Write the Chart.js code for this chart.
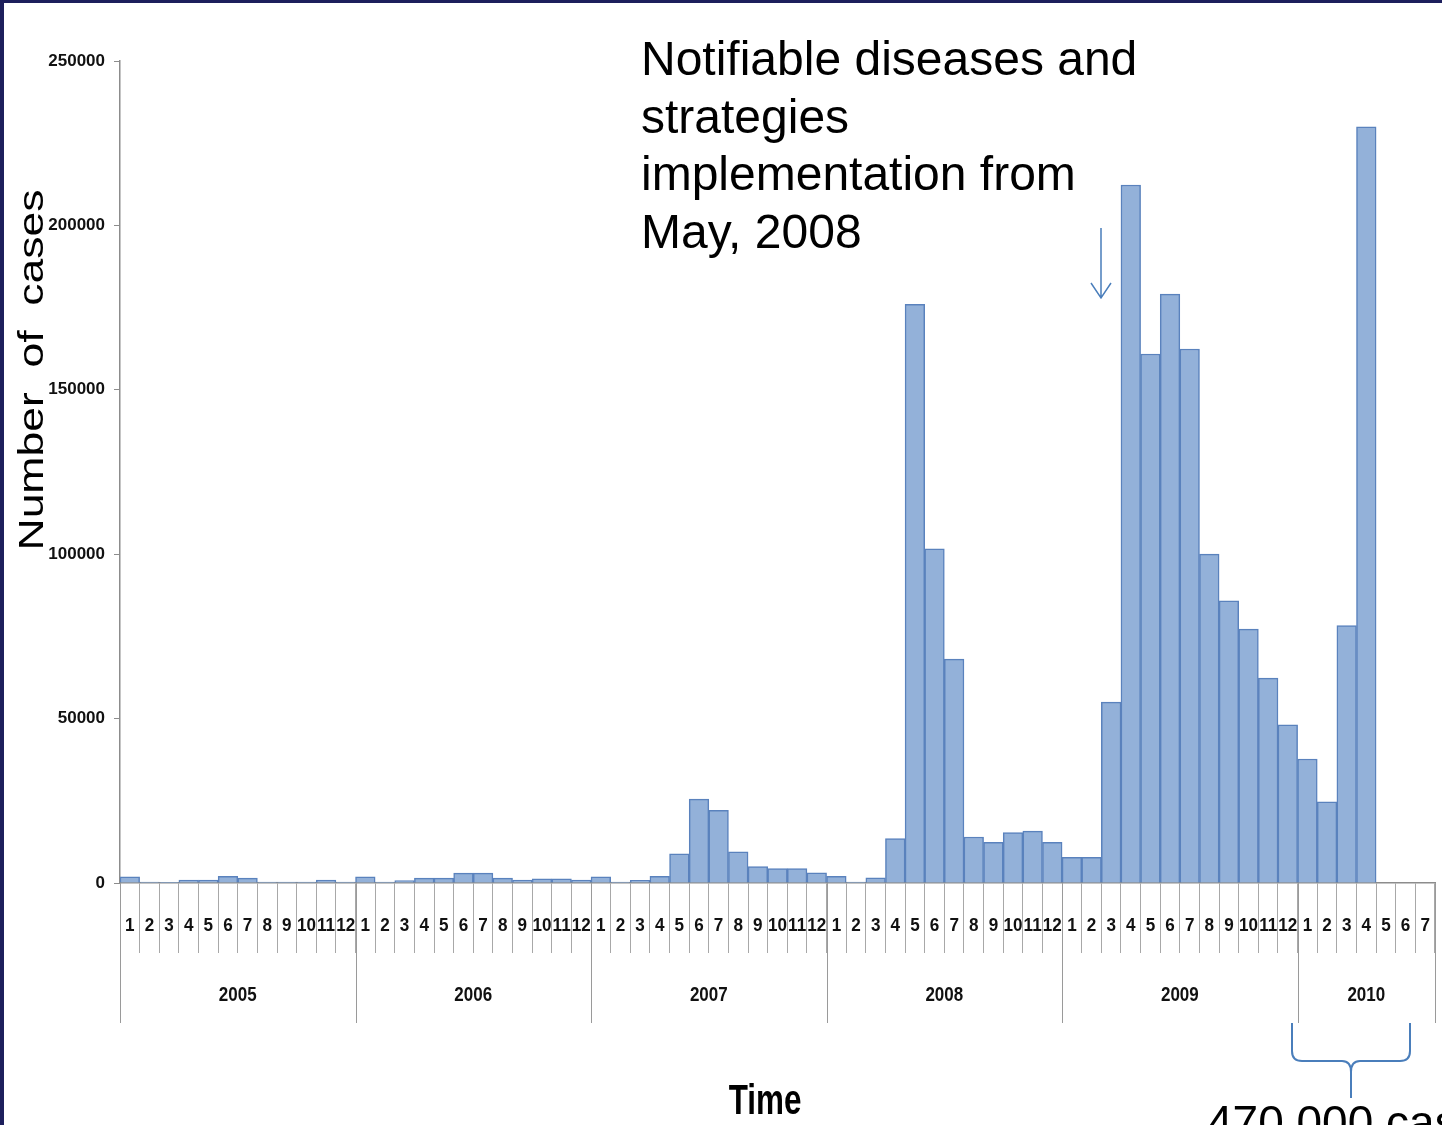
<!DOCTYPE html>
<html>
<head>
<meta charset="utf-8">
<title>Number of cases by month, 2005-2010</title>
<script src="https://cdn.jsdelivr.net/npm/chart.js@4.4.1/dist/chart.umd.min.js"></script>
<style>
  html, body { margin: 0; padding: 0; background: #ffffff; }
  #chart { display: block; }
</style>
</head>
<body>
<canvas id="chart" width="1442" height="1125"></canvas>
<script>
// years shown on the lower axis row and how many months each one has
const years = ["2005", "2006", "2007", "2008", "2009", "2010"];
const monthsPerYear = [12, 12, 12, 12, 12, 7];

// monthly case counts (null = no bar)
const cases2005 = [1900, 300, 200, 900, 900, 2000, 1500, 300, 300, 300, 900, 300];
const cases2006 = [1900, 300, 700, 1500, 1500, 3000, 3000, 1500, 900, 1300, 1300, 900];
const cases2007 = [1900, 300, 800, 2000, 8900, 25500, 22100, 9500, 5000, 4400, 4400, 3100];
const cases2008 = [2000, 300, 1600, 13500, 176000, 101600, 68100, 14000, 12400, 15300, 15800, 12400];
const cases2009 = [7800, 7800, 55000, 212300, 160900, 179100, 162400, 100000, 85800, 77200, 62300, 48100];
const cases2010 = [37700, 24700, 78300, 230000, null, null, null];

const yTicks = [0, 50000, 100000, 150000, 200000, 250000];

const annotationLines = [
  "Notifiable diseases and",
  "strategies",
  "implementation from",
  "May, 2008",
];
const bracketNote = "470 000 cases";

const FONT = '"Liberation Sans", Arial, sans-serif';
const ACCENT = "#4a7ebb";

const monthLabels = [];
years.forEach((year, yi) => {
  for (let m = 1; m <= monthsPerYear[yi]; m++) {
    monthLabels.push(String(m));
  }
});
const values = [].concat(cases2005, cases2006, cases2007, cases2008, cases2009, cases2010);

const drawNarrow = (ctx, text, x, y, scaleX, align) => {
  ctx.save();
  ctx.translate(x, y);
  ctx.scale(scaleX, 1);
  ctx.textAlign = align || "center";
  ctx.fillText(text, 0, 0);
  ctx.restore();
};

const decorations = {
  id: "decorations",
  afterDraw(chart) {
    const ctx = chart.ctx;
    const xs = chart.scales.x;
    const area = chart.chartArea;
    const step = xs.getPixelForValue(1) - xs.getPixelForValue(0);
    const edge = (i) => xs.getPixelForValue(i) - step / 2;

    ctx.save();

    // month numbers
    ctx.fillStyle = "#111111";
    ctx.font = "bold 18px " + FONT;
    ctx.textBaseline = "alphabetic";
    monthLabels.forEach((label, i) => {
      drawNarrow(ctx, label, xs.getPixelForValue(i), 931, 0.95);
    });

    // year dividers and year labels
    ctx.strokeStyle = "#9a9a9a";
    ctx.lineWidth = 1;
    let start = 0;
    ctx.font = "bold 20px " + FONT;
    years.forEach((year, yi) => {
      const end = start + monthsPerYear[yi];
      const x0 = Math.round(edge(start)) + 0.5;
      ctx.beginPath();
      ctx.moveTo(x0, area.bottom);
      ctx.lineTo(x0, 1023);
      ctx.stroke();
      const cx = (edge(start) + edge(end)) / 2;
      drawNarrow(ctx, year, cx, 1001, 0.85);
      start = end;
    });
    const xEnd = Math.round(edge(start)) + 0.5;
    ctx.beginPath();
    ctx.moveTo(xEnd, area.bottom);
    ctx.lineTo(xEnd, 1023);
    ctx.stroke();

    // axis titles
    ctx.fillStyle = "#000000";
    ctx.font = "bold 43px " + FONT;
    drawNarrow(ctx, "Time", 765, 1114, 0.73);

    ctx.save();
    ctx.translate(43, 370);
    ctx.rotate(-Math.PI / 2);
    ctx.font = "35px " + FONT;
    const title = "Number  of  cases";
    const w = ctx.measureText(title).width;
    ctx.scale(361 / w, 1);
    ctx.textAlign = "center";
    ctx.fillText(title, 0, 0);
    ctx.restore();

    // annotation text
    ctx.font = "48px " + FONT;
    ctx.textAlign = "left";
    annotationLines.forEach((line, i) => {
      ctx.fillText(line, 641, 75 + i * 57.6);
    });

    // arrow pointing at May 2008
    ctx.strokeStyle = ACCENT;
    ctx.lineWidth = 1.5;
    ctx.beginPath();
    ctx.moveTo(1101, 228);
    ctx.lineTo(1101, 298);
    ctx.moveTo(1091, 283);
    ctx.lineTo(1101, 298);
    ctx.lineTo(1111, 283);
    ctx.stroke();

    // curly bracket under 2010
    ctx.lineWidth = 2;
    ctx.beginPath();
    ctx.moveTo(1292, 1023);
    ctx.lineTo(1292, 1051);
    ctx.quadraticCurveTo(1292, 1061, 1302, 1061);
    ctx.lineTo(1342, 1061);
    ctx.quadraticCurveTo(1351, 1061, 1351, 1072);
    ctx.lineTo(1351, 1098);
    ctx.moveTo(1410, 1023);
    ctx.lineTo(1410, 1051);
    ctx.quadraticCurveTo(1410, 1061, 1400, 1061);
    ctx.lineTo(1360, 1061);
    ctx.quadraticCurveTo(1351, 1061, 1351, 1072);
    ctx.stroke();

    ctx.fillStyle = "#000000";
    ctx.font = "46px " + FONT;
    ctx.fillText(bracketNote, 1207, 1138);

    // slide frame
    ctx.fillStyle = "#1d1f5c";
    ctx.fillRect(0, 0, 4, chart.height);
    ctx.fillRect(0, 0, chart.width, 3);

    ctx.restore();
  },
};

new Chart(document.getElementById("chart"), {
  type: "bar",
  data: {
    labels: monthLabels,
    datasets: [
      {
        data: values,
        backgroundColor: "#93b1d9",
        borderColor: "#5a82bd",
        borderWidth: 1.5,
        categoryPercentage: 1,
        barPercentage: 1,
      },
    ],
  },
  options: {
    responsive: false,
    animation: false,
    devicePixelRatio: 1,
    layout: {
      padding: { left: 0, top: 61, right: 7, bottom: 172 },
    },
    plugins: {
      legend: { display: false },
      tooltip: { enabled: false },
    },
    scales: {
      x: {
        ticks: { display: false },
        grid: {
          offset: true,
          drawOnChartArea: false,
          tickLength: 70,
          color: "#a8a8a8",
          lineWidth: 1,
        },
        border: { display: true, color: "#8c8c8c", width: 1.5 },
        afterFit(scale) {
          scale.height = 70;
        },
      },
      y: {
        min: 0,
        max: 250000,
        afterBuildTicks(scale) {
          scale.ticks = yTicks.map((v) => ({ value: v }));
        },
        ticks: {
          color: "#111111",
          padding: 9,
          font: { family: FONT, size: 17, weight: "bold" },
          callback(value) {
            return String(value);
          },
        },
        grid: {
          drawOnChartArea: false,
          tickLength: 6,
          color: "#8c8c8c",
        },
        border: { display: true, color: "#8c8c8c", width: 1.5 },
        afterFit(scale) {
          scale.width = 120;
        },
      },
    },
  },
  plugins: [decorations],
});
</script>
</body>
</html>
